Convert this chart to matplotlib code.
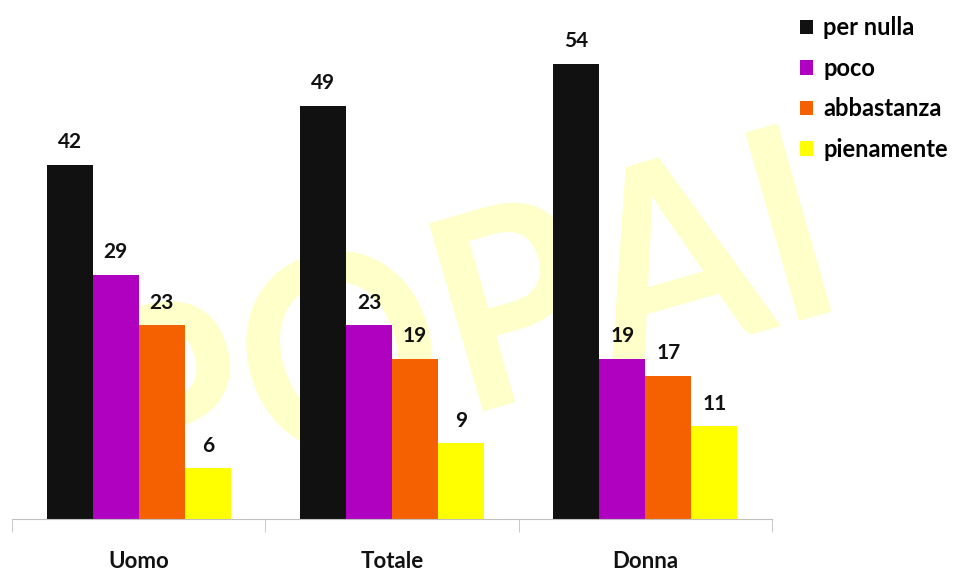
import matplotlib
matplotlib.use("Agg")
import matplotlib.pyplot as plt
import numpy as np
from matplotlib.patches import Patch, PathPatch
from matplotlib.textpath import TextPath
from matplotlib.font_manager import FontProperties
import matplotlib.transforms as mtransforms

categories = ["Uomo", "Totale", "Donna"]
series = ["per nulla", "poco", "abbastanza", "pienamente"]
per_nulla = [42, 49, 54]
poco = [29, 23, 19]
abbastanza = [23, 19, 17]
pienamente = [6, 9, 11]
values = [per_nulla, poco, abbastanza, pienamente]
colors = ["#111111", "#B000C0", "#F56000", "#FFFF00"]
watermark = "POPAI"

plt.rcParams['font.family'] = ['Lato', 'DejaVu Sans']

W, H = 958, 572
fig = plt.figure(figsize=(W/100, H/100), dpi=100)
ax = fig.add_axes([12/W, 1 - 519/H, (772-12)/W, 519/H])
ax.set_xlim(-0.5, 2.5)
ax.set_ylim(0, 519/8.43)
ax.set_facecolor('none')
ax.set_zorder(1)

# watermark (drawn behind the axes, in pixel coordinates)
tp = TextPath((0, 0), watermark, size=100, prop=FontProperties(family='Lato', weight='bold'))
ext = tp.get_extents()
sx = 720 / ext.width
sy = 200 / ext.height
tr = (mtransforms.Affine2D().translate(-ext.x0, -ext.y0).scale(sx, sy)
      .rotate_deg(16).translate(140, H - 512))
wm = PathPatch(tp, transform=tr, facecolor='#FFFFCA', edgecolor='none', zorder=0)
fig.add_artist(wm)

x = np.arange(len(categories))
w = 46/253
for i, (vals, c) in enumerate(zip(values, colors)):
    pos = x + (i - 1.5) * w
    ax.bar(pos, vals, width=w, color=c, zorder=2)
    for p, v in zip(pos, vals):
        ax.annotate(str(v), (p, v), xytext=(0, 9), textcoords='offset points',
                    ha='center', va='bottom', fontsize=15, fontweight='bold', color='#111111')

for s in ['top', 'right', 'left']:
    ax.spines[s].set_visible(False)
ax.spines['bottom'].set_color('#C0C0C0')
ax.set_yticks([])
ax.set_xticks(x)
ax.set_xticklabels(categories, fontsize=16, fontweight='bold', color='#111111')
ax.tick_params(axis='x', which='major', length=0, pad=23)
ax.set_xticks([-0.5, 0.5, 1.5, 2.5], minor=True)
ax.tick_params(axis='x', which='minor', length=9, color='#C0C0C0', direction='out')

handles = [Patch(facecolor=c, edgecolor='none') for c in colors]
fig.legend(handles, series, loc='upper left', bbox_to_anchor=(791/W, 1 - 7/H),
           frameon=False, borderaxespad=0, handlelength=0.52, handleheight=0.55,
           handletextpad=0.45, labelspacing=0.74,
           prop={'size': 17, 'weight': 'bold'})

fig.savefig("out.png", dpi=100)
